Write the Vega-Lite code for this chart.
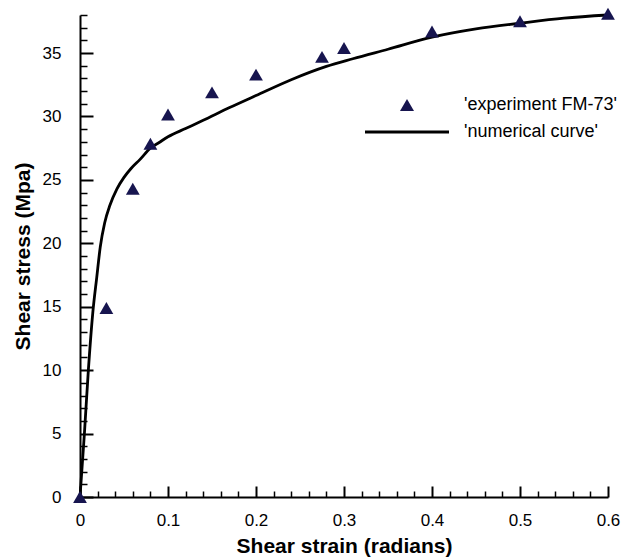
{
  "$schema": "https://vega.github.io/schema/vega-lite/v6.json",
  "width": 528,
  "height": 482,
  "autosize": "none",
  "padding": {"left": 80, "top": 15, "right": 35, "bottom": 61},
  "background": "white",
  "config": {
    "view": {"stroke": null},
    "font": "Liberation Sans",
    "axis": {
      "grid": false,
      "domainColor": "black",
      "domainWidth": 2,
      "labelColor": "black",
      "labelFont": "Liberation Sans",
      "labelFontSize": 17,
      "labelOverlap": false,
      "labelFlush": false,
      "titleColor": "black",
      "titleFont": "Liberation Sans",
      "titleFontSize": 21,
      "titleFontWeight": "bold"
    }
  },
  "datasets": {
    "experiment": [
      {"strain": 0, "stress": 0, "series": "'experiment FM-73'"},
      {"strain": 0.03, "stress": 14.9, "series": "'experiment FM-73'"},
      {"strain": 0.06, "stress": 24.3, "series": "'experiment FM-73'"},
      {"strain": 0.08, "stress": 27.85, "series": "'experiment FM-73'"},
      {"strain": 0.1, "stress": 30.15, "series": "'experiment FM-73'"},
      {"strain": 0.15, "stress": 31.9, "series": "'experiment FM-73'"},
      {"strain": 0.2, "stress": 33.3, "series": "'experiment FM-73'"},
      {"strain": 0.275, "stress": 34.7, "series": "'experiment FM-73'"},
      {"strain": 0.3, "stress": 35.4, "series": "'experiment FM-73'"},
      {"strain": 0.4, "stress": 36.7, "series": "'experiment FM-73'"},
      {"strain": 0.5, "stress": 37.5, "series": "'experiment FM-73'"},
      {"strain": 0.6, "stress": 38.1, "series": "'experiment FM-73'"}
    ],
    "curve": [
      {"strain": 0, "stress": 0},
      {"strain": 0.005, "stress": 5},
      {"strain": 0.0095, "stress": 10},
      {"strain": 0.0145, "stress": 14.5},
      {"strain": 0.019, "stress": 17.3},
      {"strain": 0.023, "stress": 19.7},
      {"strain": 0.028, "stress": 21.6},
      {"strain": 0.034, "stress": 23.0},
      {"strain": 0.042, "stress": 24.3},
      {"strain": 0.05, "stress": 25.2},
      {"strain": 0.058, "stress": 25.9},
      {"strain": 0.068, "stress": 26.6},
      {"strain": 0.08, "stress": 27.5},
      {"strain": 0.09, "stress": 27.95},
      {"strain": 0.1, "stress": 28.4},
      {"strain": 0.12, "stress": 29.05},
      {"strain": 0.14, "stress": 29.7},
      {"strain": 0.17, "stress": 30.7},
      {"strain": 0.2, "stress": 31.65},
      {"strain": 0.24, "stress": 32.9},
      {"strain": 0.28, "stress": 33.95},
      {"strain": 0.31, "stress": 34.55},
      {"strain": 0.35, "stress": 35.3},
      {"strain": 0.4, "stress": 36.25},
      {"strain": 0.45, "stress": 36.9},
      {"strain": 0.5, "stress": 37.35},
      {"strain": 0.55, "stress": 37.75},
      {"strain": 0.6, "stress": 38.0}
    ]
  },
  "encoding": {
    "x": {
      "field": "strain",
      "type": "quantitative",
      "scale": {"domain": [0, 0.6], "nice": false},
      "axis": {
        "title": "Shear strain (radians)",
        "titlePadding": 2,
        "values": [0, 0.02, 0.04, 0.06, 0.08, 0.1, 0.12, 0.14, 0.16, 0.18, 0.2, 0.22, 0.24, 0.26, 0.28, 0.3, 0.32, 0.34, 0.36, 0.38, 0.4, 0.42, 0.44, 0.46, 0.48, 0.5, 0.52, 0.54, 0.56, 0.58, 0.6],
        "labelExpr": "abs(datum.value * 10 - round(datum.value * 10)) < 0.001 ? format(datum.value, '.1~f') : ''",
        "labelPadding": 26,
        "ticks": true,
        "tickColor": "black",
        "tickSize": {"condition": {"test": "abs(datum.value * 10 - round(datum.value * 10)) < 0.001", "value": -11}, "value": -6},
        "tickWidth": {"condition": {"test": "abs(datum.value * 10 - round(datum.value * 10)) < 0.001", "value": 2}, "value": 1.5}
      }
    },
    "y": {
      "field": "stress",
      "type": "quantitative",
      "scale": {"domain": [0, 38], "nice": false},
      "axis": {
        "title": "Shear stress (Mpa)",
        "titlePadding": 9,
        "values": [0, 1, 2, 3, 4, 5, 6, 7, 8, 9, 10, 11, 12, 13, 14, 15, 16, 17, 18, 19, 20, 21, 22, 23, 24, 25, 26, 27, 28, 29, 30, 31, 32, 33, 34, 35, 36, 37, 38],
        "labelExpr": "datum.value % 5 === 0 ? datum.label : ''",
        "labelPadding": 32,
        "ticks": true,
        "tickColor": "black",
        "tickSize": {"condition": {"test": "datum.value % 5 === 0", "value": -13}, "value": -7},
        "tickWidth": {"condition": {"test": "datum.value % 5 === 0", "value": 2}, "value": 1.5}
      }
    }
  },
  "layer": [
    {
      "data": {"name": "curve"},
      "mark": {"type": "line", "color": "black", "strokeWidth": 2.8, "interpolate": "monotone"}
    },
    {
      "data": {"name": "experiment"},
      "mark": {"type": "point", "filled": true, "opacity": 1, "size": 190, "strokeWidth": 0},
      "encoding": {
        "color": {
          "field": "series",
          "type": "nominal",
          "scale": {"domain": ["'experiment FM-73'", "'numerical curve'"], "range": ["#17154f", "black"]},
          "legend": {
            "title": null,
            "orient": "none",
            "legendX": 318,
            "legendY": 81,
            "labelFont": "Liberation Sans",
            "labelFontSize": 18,
            "labelColor": "black",
            "labelOffset": 48,
            "rowPadding": 9,
            "symbolSize": 196,
            "symbolStrokeWidth": 0,
            "symbolOpacity": 1
          }
        },
        "shape": {
          "field": "series",
          "type": "nominal",
          "scale": {"domain": ["'experiment FM-73'", "'numerical curve'"], "range": ["triangle-up", "M-6,-0.2H6V0.2H-6Z"]}
        }
      }
    }
  ]
}
